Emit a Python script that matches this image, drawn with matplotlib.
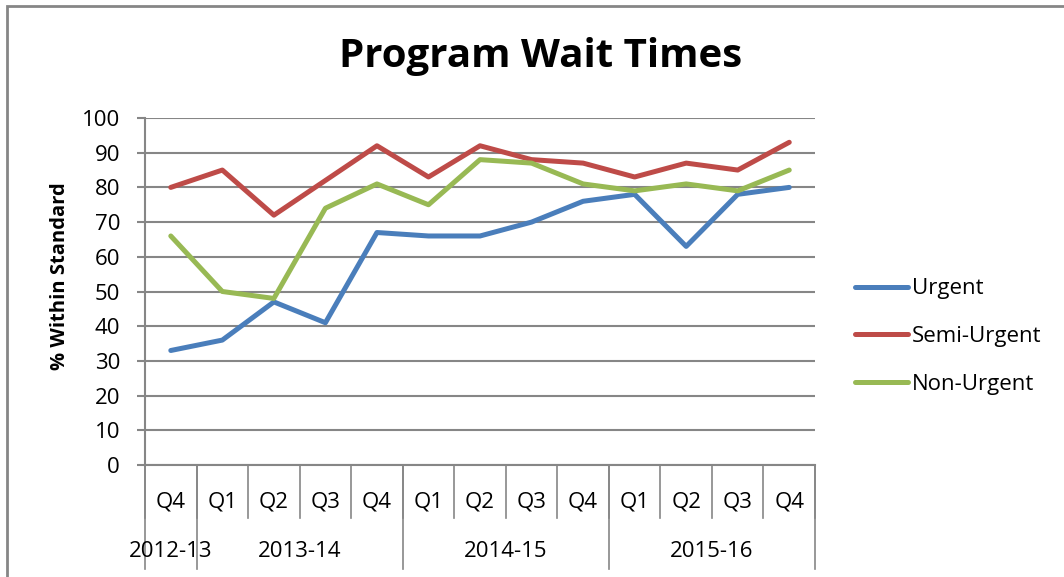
import matplotlib.pyplot as plt
from matplotlib.patches import Rectangle

# ---- data ----
quarters = ['Q4', 'Q1', 'Q2', 'Q3', 'Q4', 'Q1', 'Q2', 'Q3', 'Q4', 'Q1', 'Q2', 'Q3', 'Q4']
years = ['2012-13', '2013-14', '2014-15', '2015-16']
year_sizes = [1, 4, 4, 4]

urgent = [33, 36, 47, 41, 67, 66, 66, 70, 76, 78, 63, 78, 80]
semi_urgent = [80, 85, 72, 82, 92, 83, 92, 88, 87, 83, 87, 85, 93]
non_urgent = [66, 50, 48, 74, 81, 75, 88, 87, 81, 79, 81, 79, 85]

plt.rcParams['font.family'] = ['Open Sans', 'DejaVu Sans']
grid_col = '#868686'

fig = plt.figure(figsize=(10.64, 5.77), dpi=100)
ax = fig.add_axes([0.1363, 0.1941, 0.766 - 0.1363, 0.7955 - 0.1941])

# chart border
fig.patches.append(Rectangle((7 / 1064, -0.1), 1.2, 1 - 6 / 577 + 0.1, transform=fig.transFigure,
                             fill=False, edgecolor=grid_col, linewidth=2))

x = list(range(len(quarters)))
ax.plot(x, urgent, color='#4a7ebb', lw=3.6, solid_capstyle='round', label='Urgent')
ax.plot(x, semi_urgent, color='#be4b48', lw=3.6, solid_capstyle='round', label='Semi-Urgent')
ax.plot(x, non_urgent, color='#98b954', lw=3.6, solid_capstyle='round', label='Non-Urgent')

ax.set_xlim(-0.5, len(quarters) - 0.5)
ax.set_ylim(0, 100)
ax.set_yticks(range(0, 101, 10))
ax.yaxis.grid(True, color=grid_col, lw=1.5)
ax.set_axisbelow(True)
for s in ['top', 'right']:
    ax.spines[s].set_visible(False)
for s in ['left', 'bottom']:
    ax.spines[s].set_color(grid_col)
    ax.spines[s].set_linewidth(1.5)
ax.tick_params(axis='y', length=6, width=1.5, color=grid_col, labelsize=16, pad=12)

# multi-level category axis
ax.set_xticks(x)
ax.set_xticklabels(quarters, fontsize=16)
ax.tick_params(axis='x', length=0, pad=19)
trans = ax.get_xaxis_transform()
for i in range(len(quarters) + 1):
    ax.plot([i - 0.5, i - 0.5], [0, -0.152], transform=trans, color=grid_col, lw=1.2, clip_on=False)
start = 0
for yr, n in zip(years, year_sizes):
    ax.text(start - 0.5 + n / 2, -0.25, yr, transform=trans, ha='center', va='center', fontsize=16)
    start += n
bounds = [0]
for n in year_sizes:
    bounds.append(bounds[-1] + n)
for b in bounds:
    ax.plot([b - 0.5, b - 0.5], [0, -0.3], transform=trans, color=grid_col, lw=1.2, clip_on=False)

ax.set_ylabel('% Within Standard', fontsize=14.5, fontweight='bold')
ax.yaxis.set_label_coords(-0.112, 0.545)
fig.text(541 / 1064, 1 - 57 / 577, 'Program Wait Times', ha='center', va='center',
         fontsize=29, fontweight='bold')

ax.legend(loc='center left', bbox_to_anchor=(1.03, 0.37), frameon=False, fontsize=16,
          handlelength=2.4, handletextpad=0.15, labelspacing=1.2)

fig.savefig('out.png', dpi=100)
